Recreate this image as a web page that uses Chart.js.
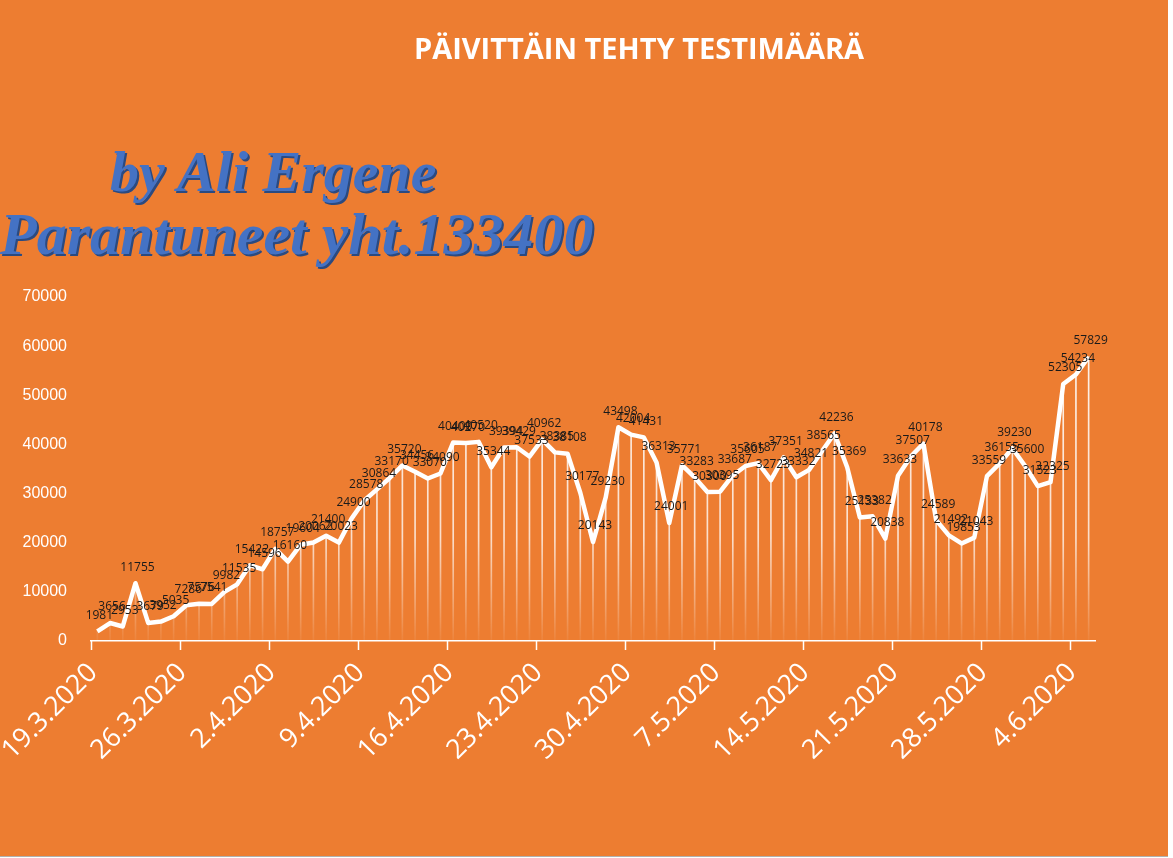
<!DOCTYPE html>
<html>
<head>
<meta charset="utf-8">
<script src="https://cdn.jsdelivr.net/npm/chart.js@4"></script>
<style>
  body { margin: 0; background: #ffffff; }
  #wrap { position: relative; width: 1168px; height: 856px; background: #ED7D31; overflow: hidden; border-bottom: 1px solid #b0b0b0; }
  canvas { position: absolute; left: 0; top: 0; }
  #title { position: absolute; left: 339px; width: 600px; top: 28px; text-align: center; color: #ffffff;
           font: bold 29px "Open Sans", sans-serif; line-height: 40px; }
  .mark { position: absolute; font-family: "Liberation Serif", serif; font-style: italic; font-weight: bold;
          color: #4472C4; text-shadow: 2px 2px 0 #2b4a80; white-space: nowrap; }
</style>
</head>
<body>
<div id="wrap">
  <canvas id="myChart" width="1168" height="856"></canvas>
  <div id="title">PÄIVITTÄIN TEHTY TESTIMÄÄRÄ</div>
  <div class="mark" style="left:110px; top:138px; font-size:58px;">by Ali Ergene</div>
  <div class="mark" style="left:0px; top:200px; font-size:60px;">Parantuneet yht.133400</div>
</div>
<script>
// daily dates 19.3.2020 - 5.6.2020
const dates = [
  '19.3.2020','20.3.2020','21.3.2020','22.3.2020','23.3.2020','24.3.2020','25.3.2020',
  '26.3.2020','27.3.2020','28.3.2020','29.3.2020','30.3.2020','31.3.2020','1.4.2020',
  '2.4.2020','3.4.2020','4.4.2020','5.4.2020','6.4.2020','7.4.2020','8.4.2020',
  '9.4.2020','10.4.2020','11.4.2020','12.4.2020','13.4.2020','14.4.2020','15.4.2020',
  '16.4.2020','17.4.2020','18.4.2020','19.4.2020','20.4.2020','21.4.2020','22.4.2020',
  '23.4.2020','24.4.2020','25.4.2020','26.4.2020','27.4.2020','28.4.2020','29.4.2020',
  '30.4.2020','1.5.2020','2.5.2020','3.5.2020','4.5.2020','5.5.2020','6.5.2020',
  '7.5.2020','8.5.2020','9.5.2020','10.5.2020','11.5.2020','12.5.2020','13.5.2020',
  '14.5.2020','15.5.2020','16.5.2020','17.5.2020','18.5.2020','19.5.2020','20.5.2020',
  '21.5.2020','22.5.2020','23.5.2020','24.5.2020','25.5.2020','26.5.2020','27.5.2020',
  '28.5.2020','29.5.2020','30.5.2020','31.5.2020','1.6.2020','2.6.2020','3.6.2020',
  '4.6.2020','5.6.2020'
];

const tests = [
  1981, 3656, 2953, 11755, 3679, 3952, 5035,
  7286, 7576, 7541, 9982, 11535, 15422, 14596,
  18757, 16160, 19604, 20062, 21400, 20023, 24900,
  28578, 30864, 33170, 35720, 34456, 33070, 34090,
  40400, 40270, 40520, 35344, 39394, 39429, 37533,
  40962, 38385, 38108, 30177, 20143, 29230, 43498,
  42004, 41431, 36313, 24001, 35771, 33283, 30300,
  30395, 33687, 35605, 36187, 32723, 37351, 33332,
  34821, 38565, 42236, 35369, 25133, 25382, 20838,
  33633, 37507, 40178, 24589, 21492, 19853, 21043,
  33559, 36155, 39230, 35600, 31523, 32325, 52305,
  54234, 57829
];

const yTicks = [0, 10000, 20000, 30000, 40000, 50000, 60000, 70000];

// value labels above each point + weekly tick marks
const extras = {
  id: 'extras',
  afterDatasetsDraw(chart) {
    const ctx = chart.ctx;
    const xs = chart.scales.x;
    const half = (xs.getPixelForValue(1) - xs.getPixelForValue(0)) / 2;
    ctx.save();
    ctx.strokeStyle = '#ffffff';
    ctx.lineWidth = 1.5;
    for (let i = 0; i < dates.length; i += 7) {
        const x = Math.round(xs.getPixelForValue(i) - half) + 0.5;
        ctx.beginPath();
        ctx.moveTo(x, xs.top);
        ctx.lineTo(x, xs.top + 9);
        ctx.stroke();
    }
    const meta = chart.getDatasetMeta(1);
    ctx.font = '12px "Open Sans", sans-serif';
    ctx.fillStyle = '#1a1a1a';
    ctx.textAlign = 'center';
    ctx.textBaseline = 'middle';
    meta.data.forEach(function(pt, i) {
      ctx.fillText(String(tests[i]), pt.x + 2, pt.y - 16);
    });
    ctx.restore();
  }
};

const newChart = document.getElementById('myChart').getContext('2d');
const myChart = new Chart(newChart, {
    data: {
        labels: dates,
        datasets: [{
            type: 'bar',
            data: tests,
            barThickness: 1,
            backgroundColor: function(c) {
                const area = c.chart.chartArea;
                if (!area) return 'rgba(255,255,255,0.8)';
                const g = c.chart.ctx.createLinearGradient(0, area.top, 0, area.bottom);
                g.addColorStop(0, 'rgba(255,255,255,0.95)');
                g.addColorStop(0.7, 'rgba(255,255,255,0.75)');
                g.addColorStop(1, 'rgba(255,255,255,0.05)');
                return g;
            },
            order: 2
        }, {
            type: 'line',
            data: tests,
            borderColor: '#ffffff',
            borderWidth: 4.5,
            pointRadius: 0,
            tension: 0,
            borderJoinStyle: 'round',
            order: 1
        }]
    },
    options: {
        responsive: false,
        animation: false,
        layout: { padding: { left: 21, right: 73, top: 297, bottom: 20 } },
        plugins: {
            legend: { display: false },
            tooltip: { enabled: false }
        },
        scales: {
            x: {
                offset: true,
                grid: { display: false },
                border: { color: '#ffffff', width: 1.5 },
                ticks: {
                    autoSkip: false,
                    maxRotation: 45,
                    minRotation: 45,
                    labelOffset: -4,
                    padding: 8,
                    color: '#ffffff',
                    font: { family: '"Open Sans", sans-serif', size: 27 },
                    callback: function(value, index) {
                        return index % 7 === 0 ? dates[index] : null;
                    }
                },
                afterFit: function(scale) { scale.height = 195; }
            },
            y: {
                min: 0,
                max: 70000,
                afterBuildTicks: function(scale) {
                    scale.ticks = yTicks.map(function(v) { return { value: v }; });
                },
                grid: { display: false },
                border: { display: false },
                ticks: {
                    color: '#ffffff',
                    padding: 16,
                    font: { family: '"Liberation Sans", sans-serif', size: 16 },
                    callback: function(value) { return String(value); }
                },
                afterFit: function(scale) { scale.width = 70; }
            }
        }
    },
    plugins: [extras]
});
</script>
</body>
</html>
